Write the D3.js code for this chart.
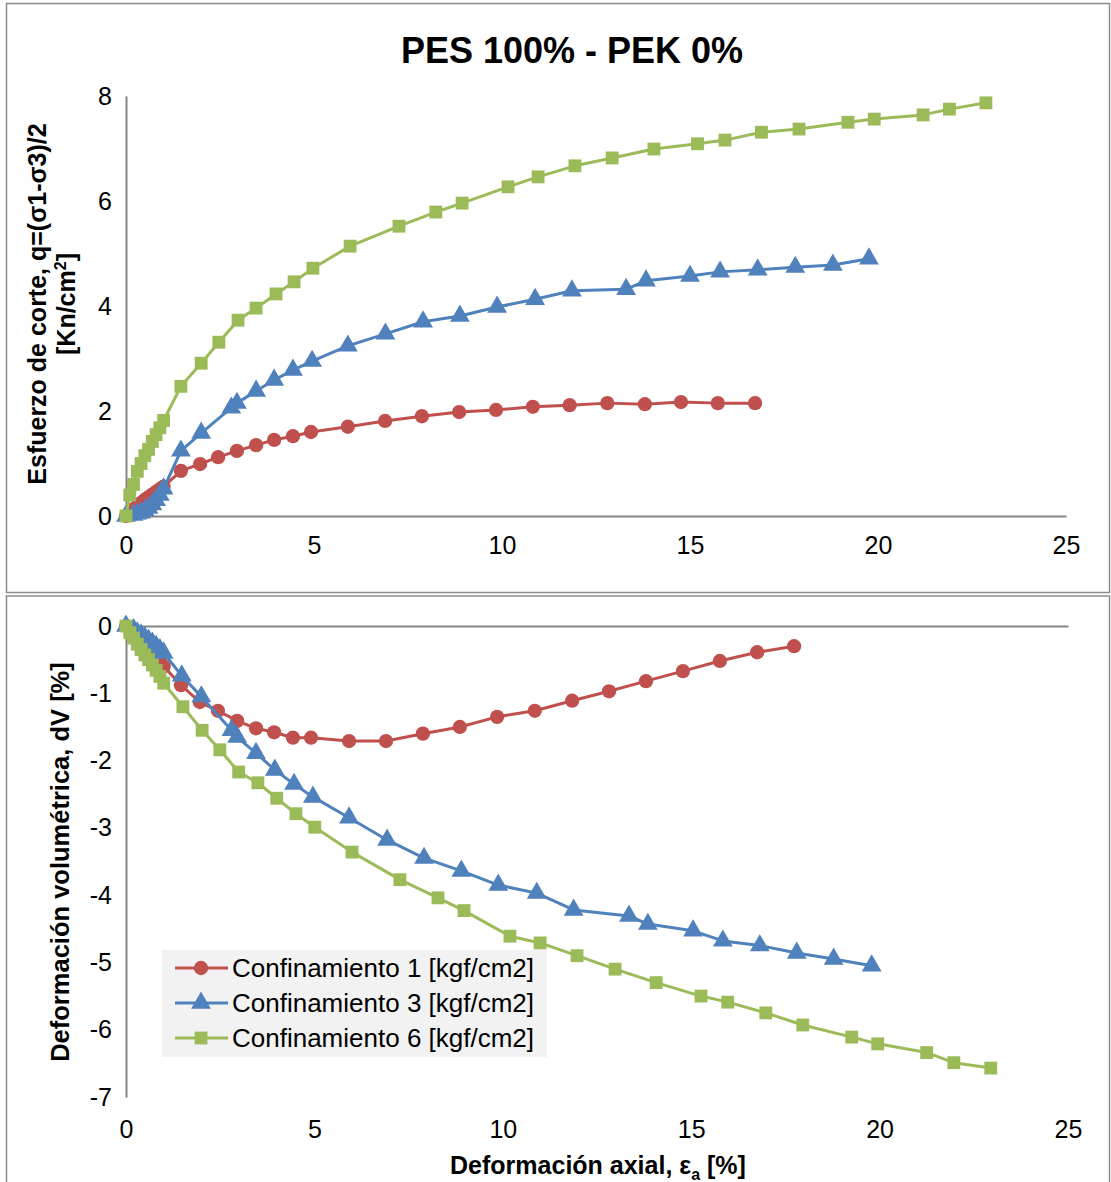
<!doctype html>
<html lang="es">
<head>
<meta charset="utf-8">
<title>PES 100% - PEK 0%</title>
<script src="https://cdn.jsdelivr.net/npm/d3@7"></script>
<style>
  body { margin: 0; background: #fff; }
  text { font-family: "Liberation Sans", Arial, sans-serif; }
</style>
</head>
<body>
<script>
// ---- data ----
var seriesNames = ["Confinamiento 1 [kgf/cm2]", "Confinamiento 3 [kgf/cm2]", "Confinamiento 6 [kgf/cm2]"];

// top chart: shear stress q vs axial strain
var q1x = [0,0.1,0.2,0.3,0.4,0.5,0.6,0.7,0.8,0.9,1.0,1.46,1.97,2.45,2.95,3.46,3.94,4.44,4.92,5.9,6.89,7.87,8.86,9.84,10.82,11.8,12.8,13.8,14.76,15.74,16.73];
var q1y = [0,0.07,0.13,0.19,0.25,0.31,0.36,0.41,0.46,0.51,0.56,0.86,0.99,1.12,1.24,1.35,1.45,1.52,1.6,1.7,1.81,1.9,1.98,2.02,2.08,2.11,2.15,2.13,2.17,2.15,2.15];
var q3x = [0,0.2,0.3,0.4,0.5,0.6,0.7,0.8,0.9,1.0,1.46,2.0,2.8,2.95,3.46,3.94,4.44,4.95,5.9,6.9,7.9,8.88,9.87,10.88,11.86,13.3,13.83,15.0,15.8,16.8,17.8,18.8,19.76];
var q3y = [0,0.02,0.04,0.06,0.1,0.15,0.22,0.3,0.4,0.52,1.24,1.58,2.06,2.15,2.38,2.59,2.78,2.95,3.24,3.47,3.7,3.81,3.98,4.13,4.29,4.32,4.48,4.57,4.65,4.69,4.74,4.78,4.9];
var q6x = [0,0.1,0.2,0.3,0.4,0.5,0.6,0.7,0.8,0.9,1.0,1.46,2.0,2.47,2.98,3.46,3.99,4.47,4.97,5.96,7.26,8.24,8.94,10.16,10.96,11.94,12.93,14.04,15.2,15.93,16.9,17.9,19.2,19.9,21.2,21.9,22.87];
var q6y = [0,0.4,0.6,0.85,1.0,1.15,1.27,1.42,1.55,1.68,1.82,2.47,2.91,3.31,3.73,3.96,4.23,4.46,4.72,5.14,5.52,5.79,5.96,6.27,6.46,6.67,6.82,6.99,7.09,7.16,7.31,7.37,7.5,7.56,7.64,7.75,7.87];

// bottom chart: volumetric strain dV vs axial strain
var v1x = [0,0.1,0.2,0.3,0.4,0.5,0.6,0.7,0.8,0.9,1.0,1.46,1.96,2.44,2.95,3.45,3.93,4.43,4.91,5.92,6.9,7.88,8.86,9.85,10.85,11.84,12.82,13.8,14.78,15.76,16.75,17.73];
var v1y = [0,-0.03,-0.07,-0.12,-0.18,-0.24,-0.3,-0.37,-0.44,-0.52,-0.6,-0.88,-1.13,-1.26,-1.41,-1.52,-1.58,-1.66,-1.66,-1.71,-1.71,-1.6,-1.5,-1.35,-1.26,-1.11,-0.97,-0.82,-0.67,-0.52,-0.39,-0.3];
var v3x = [0,0.2,0.3,0.4,0.5,0.6,0.7,0.8,0.9,1.0,1.48,2.0,2.8,2.95,3.45,3.95,4.46,4.96,5.92,6.93,7.91,8.9,9.88,10.9,11.88,13.35,13.85,15.05,15.84,16.82,17.8,18.78,19.79];
var v3y = [0,-0.05,-0.1,-0.13,-0.17,-0.21,-0.25,-0.3,-0.35,-0.4,-0.74,-1.05,-1.55,-1.65,-1.89,-2.14,-2.35,-2.54,-2.85,-3.18,-3.45,-3.64,-3.85,-3.97,-4.22,-4.31,-4.43,-4.53,-4.68,-4.75,-4.86,-4.95,-5.05];
var v6x = [0,0.1,0.2,0.3,0.4,0.5,0.6,0.7,0.8,0.9,1.0,1.51,2.02,2.49,2.99,3.5,4.0,4.51,5.01,6.0,7.27,8.28,8.97,10.19,10.99,11.97,12.98,14.07,15.26,15.97,16.98,17.96,19.26,19.95,21.25,21.97,22.95];
var v6y = [0,-0.1,-0.18,-0.27,-0.35,-0.43,-0.5,-0.58,-0.66,-0.75,-0.85,-1.2,-1.55,-1.84,-2.17,-2.33,-2.56,-2.79,-2.99,-3.36,-3.77,-4.04,-4.23,-4.61,-4.71,-4.9,-5.1,-5.3,-5.5,-5.59,-5.75,-5.93,-6.11,-6.21,-6.34,-6.49,-6.57];

var xTicks = [0, 5, 10, 15, 20, 25];
var qTicks = [0, 2, 4, 6, 8];
var vTicks = [0, -1, -2, -3, -4, -5, -6, -7];

// ---- styles ----
var colors = ["#C0504D", "#4F81BD", "#9BBB59"];
var symbols = [d3.symbolCircle, d3.symbolTriangle, d3.symbolSquare];
var symSize = [160, 170, 165];
var axisColor = "#868686";
var W = 1111, H = 1182;

var svg = d3.select("body").append("svg")
    .attr("width", W).attr("height", H);

// frames
svg.append("rect").attr("x", 6.5).attr("y", 3.5).attr("width", 1103).attr("height", 589)
   .attr("fill", "#fff").attr("stroke", "#8c8c8c").attr("stroke-width", 1.5);
svg.append("rect").attr("x", 6.5).attr("y", 596).attr("width", 1103).attr("height", 600)
   .attr("fill", "#fff").attr("stroke", "#8c8c8c").attr("stroke-width", 1.5);

var line = d3.line();
var fmt = d => String(d);

function styleTicks(g) {
    g.selectAll("text").style("font-size", "25px").attr("fill", "#000")
     .style("font-family", "Liberation Sans, Arial, sans-serif");
}

function drawSeries(g, x, y, xs, ys, i) {
    var pts = xs.map((v, k) => [x(v), y(ys[k])]);
    g.append("path")
     .attr("d", line(pts))
     .attr("fill", "none")
     .attr("stroke", colors[i])
     .attr("stroke-width", 3)
     .attr("stroke-linejoin", "round");
    g.selectAll(null)
     .data(pts)
     .enter()
     .append("path")
     .attr("transform", d => "translate(" + d[0] + "," + d[1] + ")")
     .attr("d", d3.symbol().type(symbols[i]).size(symSize[i]))
     .attr("fill", colors[i]);
}

// ---- top chart ----
var xTop = d3.scaleLinear().domain([0, 25]).range([126, 1066]);
var yTop = d3.scaleLinear().domain([0, 8]).range([516, 96]);

var topG = svg.append("g");
topG.append("text")
   .attr("x", 572).attr("y", 63)
   .attr("text-anchor", "middle")
   .style("font-size", "36px").style("font-weight", "bold")
   .text("PES 100% - PEK 0%");

topG.append("g")
   .attr("transform", "translate(0," + yTop(0) + ")")
   .call(d3.axisBottom(xTop).tickValues(xTicks).tickFormat(fmt).tickSize(0).tickPadding(20))
   .call(g => g.select(".domain").attr("stroke", axisColor).attr("stroke-width", 2))
   .call(styleTicks);
topG.append("g")
   .attr("transform", "translate(" + xTop(0) + ",0)")
   .call(d3.axisLeft(yTop).tickValues(qTicks).tickFormat(fmt).tickSize(0).tickPadding(14))
   .call(g => g.select(".domain").attr("stroke", axisColor).attr("stroke-width", 2))
   .call(styleTicks);

topG.append("text")
   .attr("transform", "translate(46,304) rotate(-90)")
   .attr("text-anchor", "middle")
   .style("font-size", "25px").style("font-weight", "bold")
   .text("Esfuerzo de corte, q=(σ1-σ3)/2");
var yt2 = topG.append("text")
   .attr("transform", "translate(75,304) rotate(-90)")
   .attr("text-anchor", "middle")
   .style("font-size", "25px").style("font-weight", "bold");
yt2.append("tspan").text("[Kn/cm");
yt2.append("tspan").attr("dy", -9).style("font-size", "16px").text("2");
yt2.append("tspan").attr("dy", 9).text("]");

var topData = [[q1x, q1y], [q3x, q3y], [q6x, q6y]];
topData.forEach((s, i) => drawSeries(topG, xTop, yTop, s[0], s[1], i));

// ---- bottom chart ----
var xBot = d3.scaleLinear().domain([0, 25]).range([126, 1068]);
var yBot = d3.scaleLinear().domain([-7, 0]).range([1097, 626]);

var botG = svg.append("g");
botG.append("g")
   .attr("transform", "translate(0," + yBot(0) + ")")
   .call(d3.axisBottom(xBot).tickValues([]).tickSize(0))
   .call(g => g.select(".domain").attr("stroke", axisColor).attr("stroke-width", 2));
botG.append("g")
   .attr("transform", "translate(0," + yBot(-7) + ")")
   .call(d3.axisBottom(xBot).tickValues(xTicks).tickFormat(fmt).tickSize(0).tickPadding(23))
   .call(g => g.select(".domain").remove())
   .call(styleTicks);
botG.append("g")
   .attr("transform", "translate(" + xBot(0) + ",0)")
   .call(d3.axisLeft(yBot).tickValues(vTicks).tickFormat(fmt).tickSize(0).tickPadding(14))
   .call(g => g.select(".domain").attr("stroke", axisColor).attr("stroke-width", 2))
   .call(styleTicks);

botG.append("text")
   .attr("transform", "translate(69,862) rotate(-90)")
   .attr("text-anchor", "middle")
   .style("font-size", "25.5px").style("font-weight", "bold")
   .text("Deformación volumétrica, dV [%]");

var xt = botG.append("text")
   .attr("x", 598).attr("y", 1174)
   .attr("text-anchor", "middle")
   .style("font-size", "25px").style("font-weight", "bold");
xt.append("tspan").text("Deformación axial, ε");
xt.append("tspan").attr("dy", 6).style("font-size", "16px").text("a");
xt.append("tspan").attr("dy", -6).text(" [%]");

var botData = [[v1x, v1y], [v3x, v3y], [v6x, v6y]];
botData.forEach((s, i) => drawSeries(botG, xBot, yBot, s[0], s[1], i));

// legend
var leg = botG.append("g").attr("transform", "translate(162,950)");
leg.append("rect").attr("width", 385).attr("height", 107).attr("fill", "#f2f2f2");
seriesNames.forEach((name, i) => {
    var cy = 18 + i * 35;
    leg.append("line").attr("x1", 13).attr("x2", 66).attr("y1", cy).attr("y2", cy)
       .attr("stroke", colors[i]).attr("stroke-width", 3);
    leg.append("path").attr("transform", "translate(39," + cy + ")")
       .attr("d", d3.symbol().type(symbols[i]).size(symSize[i])).attr("fill", colors[i]);
    leg.append("text").attr("x", 70).attr("y", cy + 9)
       .style("font-size", "26px").text(name);
});
</script>
</body>
</html>
